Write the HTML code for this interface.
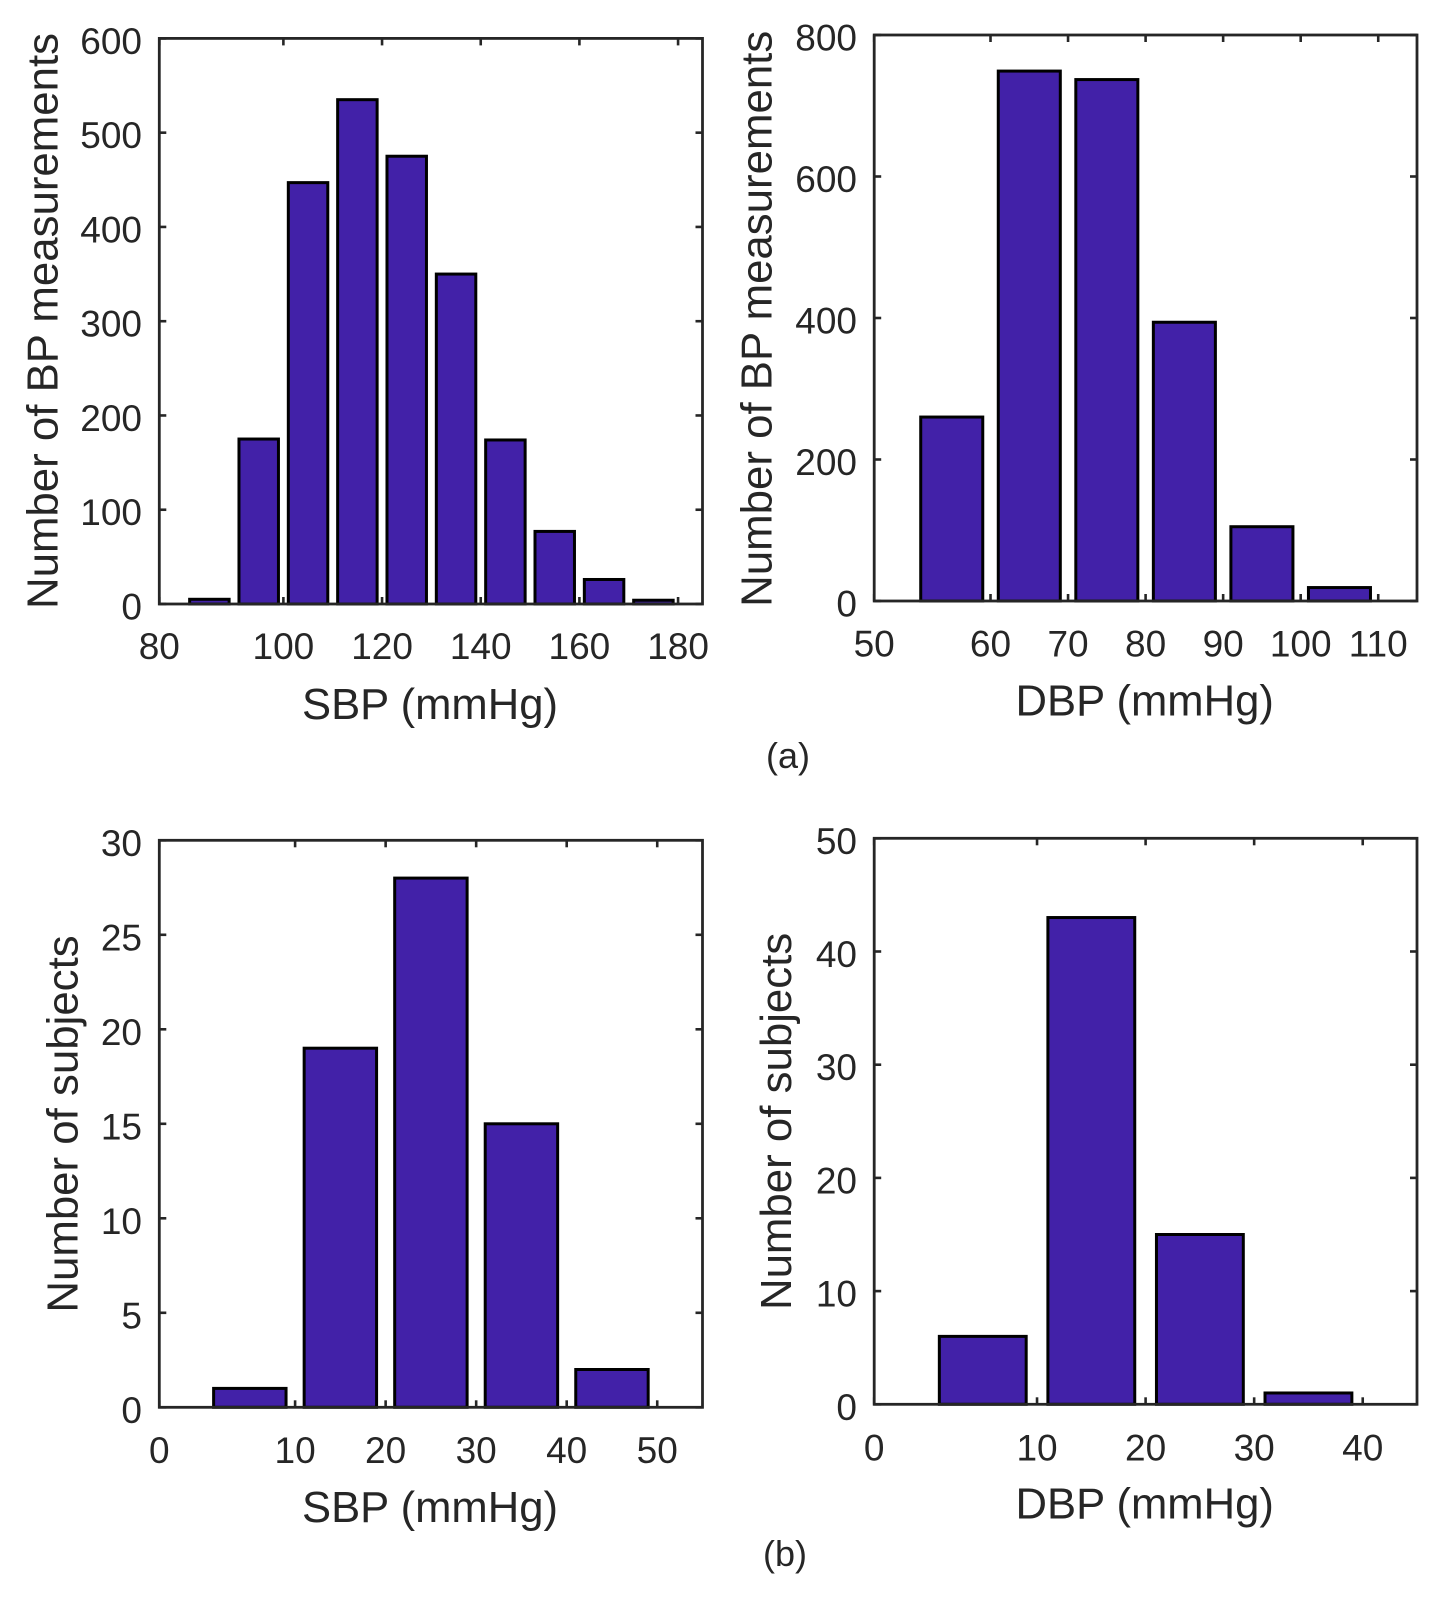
<!DOCTYPE html>
<html lang="en">
<head>
<meta charset="utf-8">
<title>Histograms of SBP and DBP</title>
<style>
  html, body { margin: 0; padding: 0; background: #ffffff; }
  svg { display: block; }
  text { font-family: "Liberation Sans", Arial, sans-serif; fill: #262626; }
</style>
</head>
<body>
<svg id="figure" xmlns="http://www.w3.org/2000/svg" width="1446" height="1597" viewBox="0 0 1446 1597">
  <rect x="0" y="0" width="1446" height="1597" fill="#ffffff"/>
  <text x="788" y="768" font-size="36" text-anchor="middle">(a)</text>
  <text x="785" y="1566" font-size="36" text-anchor="middle">(b)</text>
</svg>
<script>
// Panel (a) left: SBP measurements
const sbpMeasureBins = [85, 95, 105, 115, 125, 135, 145, 155, 165, 175];
const sbpMeasureValues = [5, 175, 447, 535, 475, 350, 174, 77, 26, 4];
const sbpMeasureXDomain = [74.85, 184.95];
const sbpMeasureYDomain = [0, 600];
const sbpMeasureXTicks = [74.85, 100, 120, 140, 160, 180];
const sbpMeasureXLabels = ["80", "100", "120", "140", "160", "180"];
const sbpMeasureYTicks = [0, 100, 200, 300, 400, 500, 600];

// Panel (a) right: DBP measurements
const dbpMeasureBins = [55, 65, 75, 85, 95, 105];
const dbpMeasureValues = [260, 749, 737, 394, 105, 19];
const dbpMeasureXDomain = [45, 115];
const dbpMeasureYDomain = [0, 800];
const dbpMeasureXTicks = [45, 60, 70, 80, 90, 100, 110];
const dbpMeasureXLabels = ["50", "60", "70", "80", "90", "100", "110"];
const dbpMeasureYTicks = [0, 200, 400, 600, 800];

// Panel (b) left: SBP subjects
const sbpSubjectBins = [5, 15, 25, 35, 45];
const sbpSubjectValues = [1, 19, 28, 15, 2];
const sbpSubjectXDomain = [-5, 55];
const sbpSubjectYDomain = [0, 30];
const sbpSubjectXTicks = [-5, 10, 20, 30, 40, 50];
const sbpSubjectXLabels = ["0", "10", "20", "30", "40", "50"];
const sbpSubjectYTicks = [0, 5, 10, 15, 20, 25, 30];

// Panel (b) right: DBP subjects
const dbpSubjectBins = [5, 15, 25, 35];
const dbpSubjectValues = [6, 43, 15, 1];
const dbpSubjectXDomain = [-5, 45];
const dbpSubjectYDomain = [0, 50];
const dbpSubjectXTicks = [-5, 10, 20, 30, 40];
const dbpSubjectXLabels = ["0", "10", "20", "30", "40"];
const dbpSubjectYTicks = [0, 10, 20, 30, 40, 50];

const binWidth = 8;
const NS = "http://www.w3.org/2000/svg";
const root = document.getElementById("figure");

function make(parent, tag, attrs, content) {
  const node = document.createElementNS(NS, tag);
  for (const key in attrs) node.setAttribute(key, attrs[key]);
  if (content !== undefined) node.textContent = content;
  parent.appendChild(node);
  return node;
}

function drawPanel(p) {
  const xScale = v => p.left + (v - p.xDomain[0]) / (p.xDomain[1] - p.xDomain[0]) * (p.right - p.left);
  const yScale = v => p.bottom - (v - p.yDomain[0]) / (p.yDomain[1] - p.yDomain[0]) * (p.bottom - p.top);

  const g = make(root, "g", {});
  
  

  // Ticks sit beneath the bars, mirrored on all four sides
  p.xTicks.forEach((t, i) => {
    const x = xScale(t);
    const bottomTick = make(g, "line", { x1: x, x2: x, y1: p.bottom, y2: p.bottom - 7, stroke: "#262626", "stroke-width": 2.6 });
    
    
    const topTick = make(g, "line", { x1: x, x2: x, y1: p.top, y2: p.top + 7, stroke: "#262626", "stroke-width": 2.6 });
    
    
    const label = make(g, "text", { x: x, y: p.xTickBaseline, "font-size": 37, "text-anchor": "middle" }, p.xLabels[i]);
    
    
  });

  p.yTicks.forEach(t => {
    const y = yScale(t);
    const leftTick = make(g, "line", { x1: p.left, x2: p.left + 7, y1: y, y2: y, stroke: "#262626", "stroke-width": 2.6 });
    
    
    const rightTick = make(g, "line", { x1: p.right, x2: p.right - 7, y1: y, y2: y, stroke: "#262626", "stroke-width": 2.6 });
    
    
    const label = make(g, "text", { x: p.yLabelRight, y: y + 15.5, "font-size": 37, "text-anchor": "end" }, String(t));
    
    
  });

  // Bars
  p.bins.forEach((b, i) => {
    const x0 = xScale(b - binWidth / 2);
    const x1 = xScale(b + binWidth / 2);
    const y0 = yScale(p.values[i]);
    const bar = make(g, "rect", { x: x0, y: y0, width: x1 - x0, height: p.bottom - y0, fill: "#4221a8", stroke: "#000000", "stroke-width": 3 });
    
    
  });

  // Axes frame
  const frame = make(g, "rect", { x: p.left, y: p.top, width: p.right - p.left, height: p.bottom - p.top, fill: "none", stroke: "#262626", "stroke-width": 2.8 });
  
  

  // Axis titles
  const xTitle = make(g, "text", { x: p.xTitleX, y: p.xTitleY, "font-size": 43.6, "text-anchor": "middle" }, p.xTitle);
  
  
  const yTitle = make(g, "text", { transform: "translate(" + p.yTitleX + " " + p.yTitleY + ") rotate(-90)", "font-size": 43.8, "text-anchor": "middle" }, p.yTitle);
  
  
}

drawPanel({
  id: "sbp-measurements", left: 159.3, right: 702.5, top: 38.4, bottom: 604,
  bins: sbpMeasureBins, values: sbpMeasureValues,
  xDomain: sbpMeasureXDomain, yDomain: sbpMeasureYDomain,
  xTicks: sbpMeasureXTicks, xLabels: sbpMeasureXLabels, yTicks: sbpMeasureYTicks,
  xTickBaseline: 659, yLabelRight: 142,
  xTitle: "SBP (mmHg)", xTitleX: 430, xTitleY: 719,
  yTitle: "Number of BP measurements", yTitleX: 57.6, yTitleY: 321
});

drawPanel({
  id: "dbp-measurements", left: 874.2, right: 1417, top: 35, bottom: 601,
  bins: dbpMeasureBins, values: dbpMeasureValues,
  xDomain: dbpMeasureXDomain, yDomain: dbpMeasureYDomain,
  xTicks: dbpMeasureXTicks, xLabels: dbpMeasureXLabels, yTicks: dbpMeasureYTicks,
  xTickBaseline: 656.5, yLabelRight: 857,
  xTitle: "DBP (mmHg)", xTitleX: 1144.7, xTitleY: 715.7,
  yTitle: "Number of BP measurements", yTitleX: 771.4, yTitleY: 318.8
});

drawPanel({
  id: "sbp-subjects", left: 159.3, right: 702.5, top: 840.3, bottom: 1407.3,
  bins: sbpSubjectBins, values: sbpSubjectValues,
  xDomain: sbpSubjectXDomain, yDomain: sbpSubjectYDomain,
  xTicks: sbpSubjectXTicks, xLabels: sbpSubjectXLabels, yTicks: sbpSubjectYTicks,
  xTickBaseline: 1463, yLabelRight: 142,
  xTitle: "SBP (mmHg)", xTitleX: 430, xTitleY: 1522,
  yTitle: "Number of subjects", yTitleX: 77.4, yTitleY: 1124
});

drawPanel({
  id: "dbp-subjects", left: 874.2, right: 1417, top: 838.3, bottom: 1404.3,
  bins: dbpSubjectBins, values: dbpSubjectValues,
  xDomain: dbpSubjectXDomain, yDomain: dbpSubjectYDomain,
  xTicks: dbpSubjectXTicks, xLabels: dbpSubjectXLabels, yTicks: dbpSubjectYTicks,
  xTickBaseline: 1460.5, yLabelRight: 857,
  xTitle: "DBP (mmHg)", xTitleX: 1144.7, xTitleY: 1518.7,
  yTitle: "Number of subjects", yTitleX: 791.2, yTitleY: 1121.4
});
</script>
</body>
</html>
